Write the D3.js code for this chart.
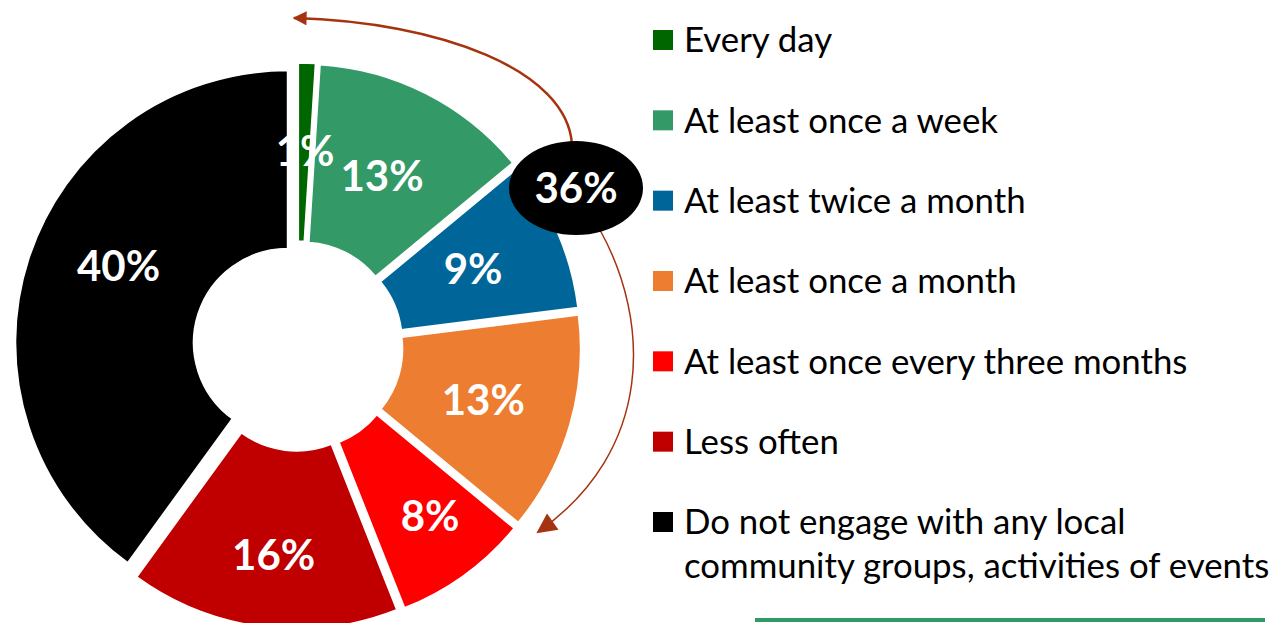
<!DOCTYPE html>
<html>
<head>
<meta charset="utf-8">
<script src="https://cdn.jsdelivr.net/npm/d3@7"></script>
<style>
  html, body { margin: 0; padding: 0; background: #fff; }
  svg { display: block; }
  text { font-family: Lato, "Open Sans", sans-serif; }
</style>
</head>
<body>
<svg id="chart" width="1273" height="623"></svg>
<script>
// ---- data ----
const categories = [
  "Every day",
  "At least once a week",
  "At least twice a month",
  "At least once a month",
  "At least once every three months",
  "Less often",
  "Do not engage with any local community groups, activities of events"
];
const values = [1, 13, 9, 13, 8, 16, 40];
const colors = ["#006600", "#339966", "#006699", "#ED7D31", "#FF0000", "#C00000", "#000000"];
const legendLines = [
  ["Every day"],
  ["At least once a week"],
  ["At least twice a month"],
  ["At least once a month"],
  ["At least once every three months"],
  ["Less often"],
  ["Do not engage with any local", "community groups, activities of events"]
];
const highlightCount = 4; // first four categories grouped in the call-out

// ---- layout ----
const svg = d3.select("#chart");
const cx = 298, cy = 346;
const outerR = 272, innerR = 94, explode = 11;
// manual nudges of the data labels (layout only)
const labelShift = [[1, -1], [-4, 3], [-3, 0], [-1, 0], [18, 13], [0, 17], [5, -20]];

const pie = d3.pie().sort(null).value(d => d).startAngle(0).endAngle(2 * Math.PI);
const arc = d3.arc().innerRadius(innerR).outerRadius(outerR);
const arcs = pie(values);

const g = svg.append("g").attr("transform", `translate(${cx},${cy})`);

function offset(d) {
  const m = (d.startAngle + d.endAngle) / 2;
  return [explode * Math.sin(m), -explode * Math.cos(m)];
}

g.selectAll("path.slice").data(arcs).enter().append("path")
  .attr("class", "slice")
  .attr("transform", d => { const o = offset(d); return `translate(${o[0]},${o[1]})`; })
  .attr("d", arc)
  .attr("fill", (d, i) => colors[i])
  .attr("stroke", "#fff")
  .attr("stroke-width", 1.5);

g.selectAll("text.lbl").data(arcs).enter().append("text")
  .attr("class", "lbl")
  .attr("transform", (d, i) => {
    const c = arc.centroid(d), o = offset(d), s = labelShift[i];
    return `translate(${c[0] + o[0] + s[0]},${c[1] + o[1] + s[1]})`;
  })
  .attr("text-anchor", "middle")
  .attr("dy", "0.35em")
  .attr("fill", "#fff")
  .attr("font-weight", "bold")
  .attr("font-size", 42)
  .text(d => d3.format(".0f")(d.value) + "%");

// ---- call-out ----
const defs = svg.append("defs");
function marker(id, w, h) {
  defs.append("marker")
    .attr("id", id)
    .attr("viewBox", "0 0 10 10")
    .attr("refX", 9).attr("refY", 5)
    .attr("markerWidth", w).attr("markerHeight", h)
    .attr("markerUnits", "userSpaceOnUse")
    .attr("orient", "auto")
    .append("path").attr("d", "M0,0 L10,5 L0,10 Z").attr("fill", "#A5330F");
}
marker("arrowA", 16, 14);
marker("arrowB", 24, 20);

svg.append("path")
  .attr("d", "M572,145 C568,70 440,22 294,18")
  .attr("fill", "none").attr("stroke", "#A5330F").attr("stroke-width", 2.5)
  .attr("marker-end", "url(#arrowA)");

svg.append("path")
  .attr("d", "M600,230 C650,320 655,450 538,532")
  .attr("fill", "none").attr("stroke", "#A5330F").attr("stroke-width", 1.5)
  .attr("marker-end", "url(#arrowB)");

svg.append("ellipse")
  .attr("cx", 576).attr("cy", 188).attr("rx", 67).attr("ry", 47)
  .attr("fill", "#000");

svg.append("text")
  .attr("x", 576).attr("y", 188).attr("dy", "0.35em")
  .attr("text-anchor", "middle")
  .attr("fill", "#fff").attr("font-weight", "bold").attr("font-size", 42)
  .text(d3.sum(values.slice(0, highlightCount)) + "%");

// ---- legend ----
const legend = svg.append("g").attr("transform", "translate(653,0)");
const rowY = d3.scalePoint().domain(d3.range(categories.length)).range([40, 522]);
const items = legend.selectAll("g.item").data(categories).enter().append("g")
  .attr("class", "item")
  .attr("transform", (d, i) => `translate(0,${rowY(i)})`);
items.append("rect")
  .attr("x", 0).attr("y", -10).attr("width", 20).attr("height", 20)
  .attr("fill", (d, i) => colors[i]);
items.each(function(d, i) {
  const t = d3.select(this).append("text")
    .attr("x", 31).attr("y", 0)
    .attr("font-size", 34.8).attr("fill", "#000");
  legendLines[i].forEach((line, j) => {
    t.append("tspan").attr("x", 31).attr("dy", j === 0 ? "0.35em" : "1.27em").text(line);
  });
});

// bottom accent line
svg.append("line")
  .attr("x1", 755).attr("x2", 1265).attr("y1", 620).attr("y2", 620)
  .attr("stroke", "#339966").attr("stroke-width", 4);
</script>
</body>
</html>
